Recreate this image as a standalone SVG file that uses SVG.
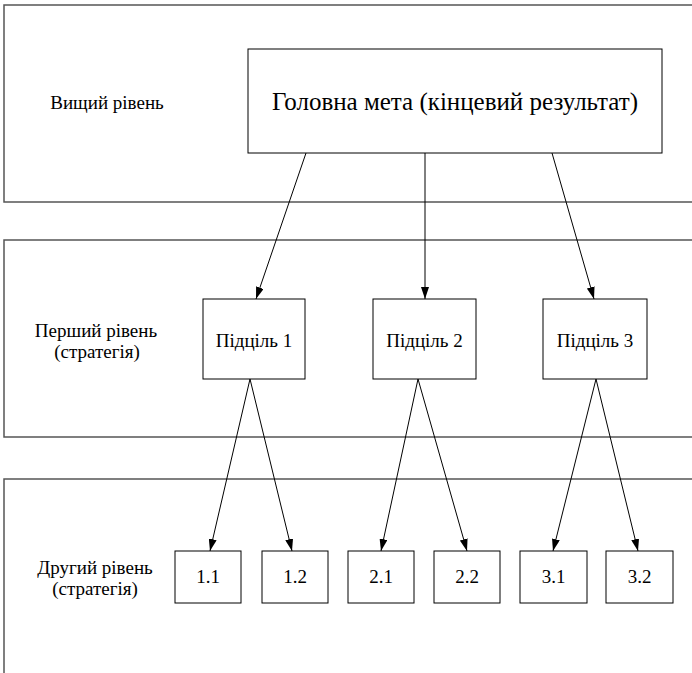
<svg xmlns="http://www.w3.org/2000/svg" width="692" height="673" viewBox="0 0 692 673">
<style>
.frame{fill:none;stroke:#555;stroke-width:1.5}
.box{fill:#fff;stroke:#000;stroke-width:1}
.t{font-family:"Liberation Serif","DejaVu Serif",serif;fill:#000;text-anchor:middle;font-size:19px}
.c{stroke:#000;stroke-width:1;fill:none;marker-end:url(#ah)}
</style>
<defs>
<marker id="ah" viewBox="0 0 12 8" refX="12" refY="4" markerWidth="12" markerHeight="8" markerUnits="userSpaceOnUse" orient="auto">
<path d="M0,0 L12,4 L0,8 Z" fill="#000"/>
</marker>
</defs>
<rect class="frame" x="4" y="5" width="700" height="197"/>
<rect class="frame" x="4" y="240" width="700" height="197"/>
<rect class="frame" x="4" y="479" width="700" height="210"/>
<g id="lvl0"><text class="t" x="107" y="109">Вищий рівень</text></g>
<g id="lvl1"><text class="t" x="96" y="337">Перший рівень</text><text class="t" x="97" y="358">(стратегія)</text></g>
<g id="lvl2"><text class="t" x="95" y="574">Другий рівень</text><text class="t" x="95" y="595">(стратегія)</text></g>
<g id="main"><rect class="box" x="248" y="49" width="414" height="104"/><text class="t" x="455" y="110" style="font-size:25px">Головна мета (кінцевий результат)</text></g>
<g id="g1"><rect class="box" x="203" y="299" width="102" height="80"/><text class="t" x="254" y="347">Підціль 1</text></g>
<g id="g2"><rect class="box" x="373" y="299" width="103" height="80"/><text class="t" x="424.5" y="347">Підціль 2</text></g>
<g id="g3"><rect class="box" x="543" y="299" width="104" height="80"/><text class="t" x="595" y="347">Підціль 3</text></g>
<g id="s11"><rect class="box" x="175" y="551" width="66" height="52"/><text class="t" x="208" y="583">1.1</text></g>
<g id="s12"><rect class="box" x="262" y="551" width="66" height="52"/><text class="t" x="295" y="583">1.2</text></g>
<g id="s21"><rect class="box" x="348" y="551" width="66" height="52"/><text class="t" x="381" y="583">2.1</text></g>
<g id="s22"><rect class="box" x="434" y="551" width="66" height="52"/><text class="t" x="467" y="583">2.2</text></g>
<g id="s31"><rect class="box" x="520" y="551" width="67" height="52"/><text class="t" x="553.5" y="583">3.1</text></g>
<g id="s32"><rect class="box" x="606" y="551" width="67" height="52"/><text class="t" x="639.5" y="583">3.2</text></g>
<g id="connectors">
<line class="c" x1="306" y1="153" x2="256" y2="299"/>
<line class="c" x1="425" y1="153" x2="425" y2="299"/>
<line class="c" x1="552" y1="153" x2="594" y2="299"/>
<line class="c" x1="250" y1="379" x2="210" y2="551"/>
<line class="c" x1="250" y1="379" x2="292" y2="551"/>
<line class="c" x1="418" y1="379" x2="381" y2="551"/>
<line class="c" x1="418" y1="379" x2="467" y2="551"/>
<line class="c" x1="596" y1="379" x2="553" y2="551"/>
<line class="c" x1="596" y1="379" x2="638" y2="551"/>
</g>
</svg>
